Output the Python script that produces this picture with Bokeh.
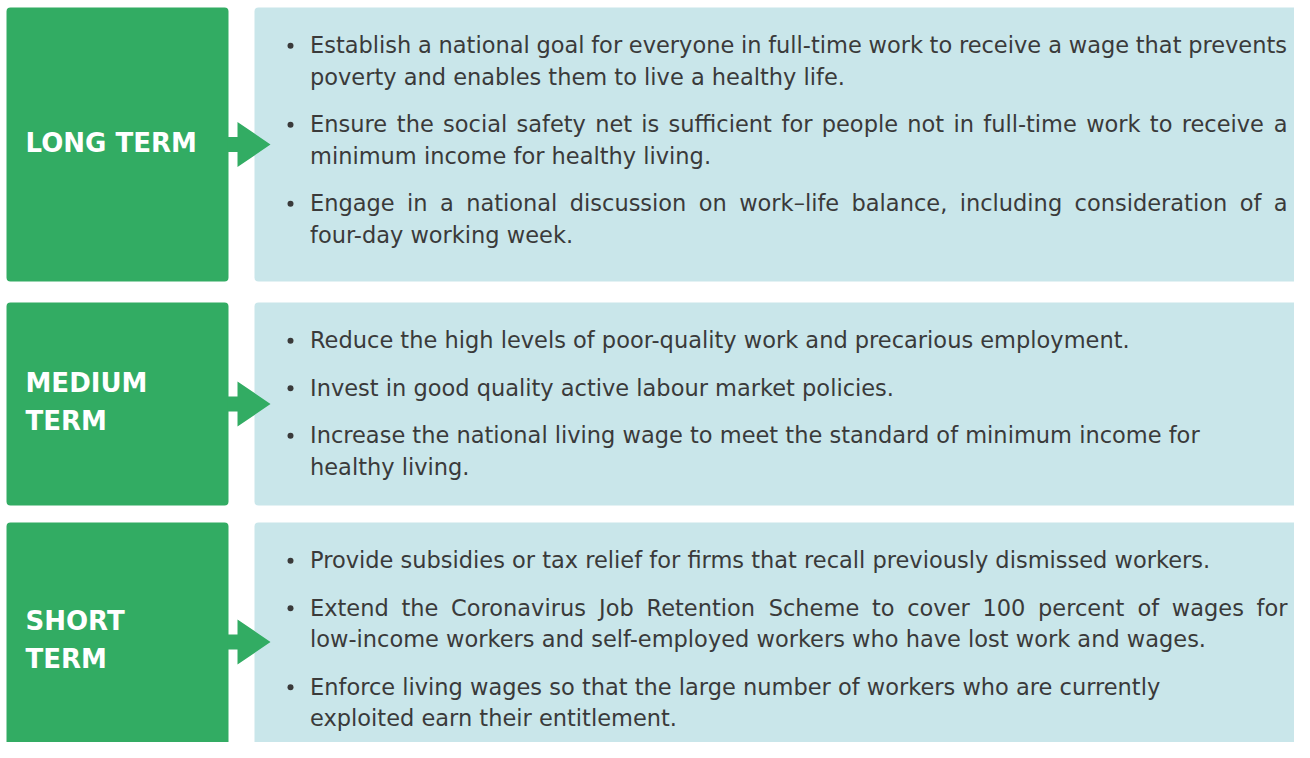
from bokeh.plotting import figure
from bokeh.models import Range1d
from bokeh.core.properties import value
from bokeh.embed import file_html
from bokeh.resources import INLINE

# ---------------- content ----------------
stage_labels = [["LONG TERM"], ["MEDIUM", "TERM"], ["SHORT", "TERM"]]

long_term_points = [
    ["Establish a national goal for everyone in full-time work to receive a wage that prevents",
     "poverty and enables them to live a healthy life."],
    ["Ensure the social safety net is sufficient for people not in full-time work to receive a",
     "minimum income for healthy living."],
    ["Engage in a national discussion on work\u2013life balance, including consideration of a",
     "four-day working week."],
]
medium_term_points = [
    ["Reduce the high levels of poor-quality work and precarious employment."],
    ["Invest in good quality active labour market policies."],
    ["Increase the national living wage to meet the standard of minimum income for",
     "healthy living."],
]
short_term_points = [
    ["Provide subsidies or tax relief for firms that recall previously dismissed workers."],
    ["Extend the Coronavirus Job Retention Scheme to cover 100 percent of wages for",
     "low-income workers and self-employed workers who have lost work and wages."],
    ["Enforce living wages so that the large number of workers who are currently",
     "exploited earn their entitlement."],
]
stage_points = [long_term_points, medium_term_points, short_term_points]

# lines that are set justified in the original (stage, bullet, line)
justified_lines = [(0, 0, 0), (0, 1, 0), (0, 2, 0), (2, 1, 0)]

# ---------------- layout ----------------
W, H = 1294, 742
GREEN = "#32ac63"
BLUE = "#c9e6ea"
TEXT = "#3a3a3a"
BODY_FONT = "DejaVu Sans"
LABEL_FONT = "DejaVu Sans"

box_top = [7, 302, 522]
box_bottom = [281, 505, 761]
green_x0, green_x1 = 6, 228
blue_x0, blue_x1 = 254, 1312
label_x = 25
label_size = 26
label_lh = 37.3
label_shift = -0.38 * label_size
body_size = 22.5
body_shift = -0.33 * body_size
line_h = 31.5
bullet_gap = 16
bullet_x = 290
text_x = 309.5
text_right = 1287
first_base = 45

# DejaVu Sans advance widths (em), used to spread words on justified lines
CW = {" ": .318, "a": .613, "b": .635, "c": .550, "d": .635, "e": .615, "f": .352,
      "g": .635, "h": .634, "i": .278, "j": .278, "k": .579, "l": .278, "m": .974,
      "n": .634, "o": .612, "p": .635, "q": .635, "r": .411, "s": .521, "t": .392,
      "u": .634, "v": .592, "w": .818, "x": .592, "y": .592, "z": .525,
      "E": .632, "R": .695, "I": .295, "P": .603, "C": .698, "J": .295, "S": .635,
      "-": .361, ".": .318, ",": .318, "\u2013": .5, "0": .636, "1": .636}


def text_w(s, size):
    return sum(CW.get(ch, .6) for ch in s) * size


p = figure(width=W, height=H, output_backend="svg", toolbar_location=None,
           x_range=Range1d(0, W), y_range=Range1d(H, 0),
           min_border=0, background_fill_color="white", border_fill_color="white")
p.axis.visible = False
p.grid.visible = False
p.outline_line_color = None

# boxes
p.quad(left=[green_x0] * 3, right=[green_x1] * 3, top=box_top, bottom=box_bottom,
       fill_color=GREEN, line_color=None, border_radius=4)
p.quad(left=[blue_x0] * 3, right=[blue_x1] * 3, top=box_top, bottom=box_bottom,
       fill_color=BLUE, line_color=None, border_radius=4)

# arrows
axs, ays = [], []
for t, b in zip(box_top, box_bottom):
    c = (t + b) / 2
    x0 = green_x1 - 1
    xb = green_x1 + 9
    xt = green_x1 + 42
    sh, hh = 7.5, 22.5
    axs.append([x0, xb, xb, xt, xb, xb, x0])
    ays.append([c - sh, c - sh, c - hh, c, c + hh, c + sh, c + sh])
p.patches(xs=axs, ys=ays, fill_color=GREEN, line_color=None)

# stage labels
lx, ly, lt = [], [], []
for lines, t, b in zip(stage_labels, box_top, box_bottom):
    c = (t + b) / 2 + 8 + label_shift
    n = len(lines)
    for i, s in enumerate(lines):
        lx.append(label_x)
        ly.append(c + (i - (n - 1) / 2) * label_lh)
        lt.append(s)
p.text(x=lx, y=ly, text=lt, text_color="white", text_font=value(LABEL_FONT),
       text_font_style="bold", text_font_size=f"{label_size}px",
       text_baseline="alphabetic", text_align="left")

# body text
tx, ty, tt, bx, by = [], [], [], [], []
for si, (points, t) in enumerate(zip(stage_points, box_top)):
    y = t + first_base
    for bi, pt in enumerate(points):
        bx.append(bullet_x)
        by.append(y - 6.7)
        for li, ln in enumerate(pt):
            if (si, bi, li) in justified_lines:
                words = ln.split(" ")
                total = sum(text_w(w_, body_size) for w_ in words)
                gap = (text_right - text_x - total) / (len(words) - 1)
                x = text_x
                for w_ in words:
                    tx.append(x)
                    ty.append(y + body_shift)
                    tt.append(w_)
                    x += text_w(w_, body_size) + gap
            else:
                tx.append(text_x)
                ty.append(y + body_shift)
                tt.append(ln)
            y += line_h
        y += bullet_gap
p.text(x=tx, y=ty, text=tt, text_color=TEXT, text_font=value(BODY_FONT),
       text_font_size=f"{body_size}px", text_baseline="alphabetic", text_align="left")
p.scatter(x=bx, y=by, size=6, marker="circle", fill_color=TEXT, line_color=None)

open("out.html", "w").write(file_html(p, INLINE))
